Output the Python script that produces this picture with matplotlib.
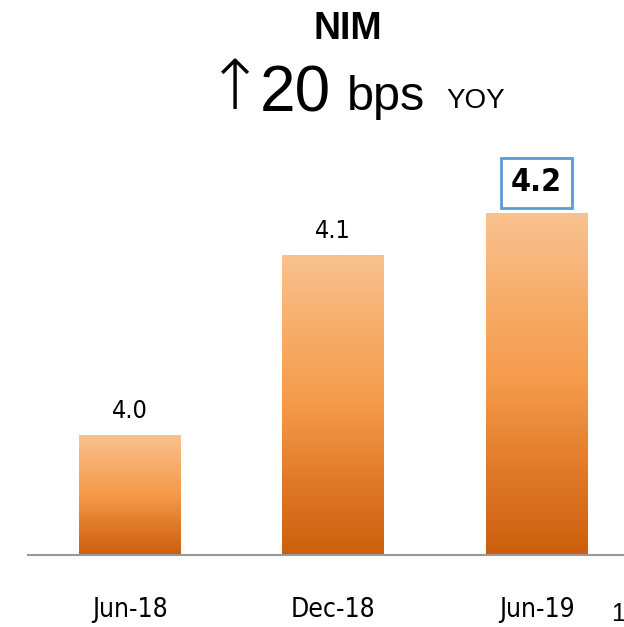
import numpy as np
import matplotlib.pyplot as plt
from matplotlib.colors import LinearSegmentedColormap

# Данные
periods = ["Jun-18", "Dec-18", "Jun-19"]
nim = [3.97, 4.12, 4.155]
nim_labels = ["4.0", "4.1", "4.2"]

W, H = 624, 627
fig = plt.figure(figsize=(W / 100, H / 100), dpi=100)

# Оси: базовая линия на y=555 px, верх на y=150 px
ax = fig.add_axes([28 / W, (H - 555) / H, (W - 28) / W, (555 - 150) / H])

grad = LinearSegmentedColormap.from_list(
    "nim", ["#cc5f0e", "#e07a2a", "#f59a4a", "#f7ad6a", "#f9c290"])
img = np.linspace(0, 1, 256).reshape(-1, 1)

x = np.arange(len(periods))
bars = ax.bar(x, nim, width=0.5, color="none", edgecolor="none")
ymin = 3.87
for b in bars:
    x0 = b.get_x()
    im = ax.imshow(img, cmap=grad, origin="lower", aspect="auto",
                   extent=[x0, x0 + b.get_width(), ymin, b.get_height()],
                   zorder=2)
    im.set_clip_path(b)

ax.set_xlim(-0.5, 2.43)
ax.set_ylim(ymin, ymin + 405 / 1200)

for i, (v, lab) in enumerate(zip(nim, nim_labels)):
    if i == len(nim) - 1:
        ax.text(i, v + 0.025, lab, ha="center", va="center", fontsize=23,
                fontweight="bold", fontfamily="DejaVu Sans", fontstretch="condensed",
                bbox=dict(boxstyle="square,pad=0.3", fc="white", ec="#5b9bd5", lw=2))
    else:
        ax.text(i, v + 0.010, lab, ha="center", va="bottom", fontsize=18,
                fontfamily="DejaVu Sans", fontstretch="condensed")

for s in ["top", "right", "left"]:
    ax.spines[s].set_visible(False)
ax.spines["bottom"].set_color("#999999")
ax.spines["bottom"].set_linewidth(1.5)
ax.set_yticks([])
ax.set_xticks(x)
ax.set_xticklabels(periods, fontsize=19, fontfamily="DejaVu Sans", fontstretch="condensed")
ax.tick_params(axis="x", length=0, pad=30)

# Заголовок
fig.text(348 / W, 1 - 29 / H, "NIM", ha="center", va="center", fontsize=27,
         fontweight="bold", fontfamily="Liberation Sans")
fig.text(206 / W, 1 - 90 / H, "↑", ha="left", va="center", fontsize=50,
         fontfamily="DejaVu Sans", fontweight="light")
fig.text(260 / W, 1 - 95 / H, "20", ha="left", va="center", fontsize=46,
         fontfamily="Liberation Sans")
fig.text(347 / W, 1 - 97 / H, "bps", ha="left", va="center", fontsize=35,
         fontfamily="Liberation Sans")
fig.text(446 / W, 1 - 101 / H, "YOY", ha="left", va="center", fontsize=20,
         fontfamily="Liberation Sans")

fig.text(611 / W, 1 - 614 / H, "14", ha="left", va="center", fontsize=18,
         fontfamily="Liberation Sans")

fig.savefig("out.png", dpi=100)
